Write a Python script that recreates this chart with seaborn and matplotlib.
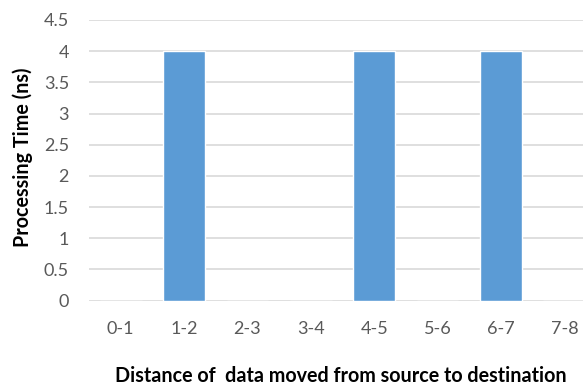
import matplotlib
matplotlib.use("Agg")
import matplotlib.pyplot as plt
import seaborn as sns
import pandas as pd

categories = ["0-1", "1-2", "2-3", "3-4", "4-5", "5-6", "6-7", "7-8"]
values = [0, 4, 0, 0, 4, 0, 4, 0]
y_ticks = [0, 0.5, 1, 1.5, 2, 2.5, 3, 3.5, 4, 4.5]

sns.set_theme(style="white")
plt.rcParams['font.family'] = ['Lato', 'DejaVu Sans']

df = pd.DataFrame({"cat": categories, "val": values})

W, H = 583, 387
fig = plt.figure(figsize=(W / 100, H / 100), dpi=100)
left, right, top, bottom = 89, 596, 20, 300.5
ax = fig.add_axes([left / W, (H - bottom) / H, (right - left) / W, (bottom - top) / H])

sns.barplot(data=df, x="cat", y="val", color="#5B9BD5", width=0.66, ax=ax,
            saturation=1, zorder=3)

ax.set_ylim(0, 4.5)
ax.set_xlim(-0.5, 7.5)
ax.set_yticks(y_ticks)
ax.set_yticklabels([f"{t:g}" for t in y_ticks])
ax.yaxis.grid(True, color="#D9D9D9", linewidth=1.2, zorder=0)
ax.set_axisbelow(True)
for s in ax.spines.values():
    s.set_visible(False)
ax.tick_params(axis="both", length=0, labelsize=13, labelcolor="#595959")
ax.tick_params(axis="x", pad=15)
ax.tick_params(axis="y", pad=14.4)

ax.set_xlabel("")
ax.set_ylabel("")
fig.text(341 / W, 1 - 382 / H, "Distance of  data moved from source to destination",
         ha="center", va="baseline", fontsize=14.2, fontweight="bold", color="black")
fig.text(23 / W, 1 - 157 / H, "Processing Time (ns)", rotation=90,
         ha="center", va="center", fontsize=14.2, fontweight="bold", color="black")

fig.savefig("out.png", dpi=100)
